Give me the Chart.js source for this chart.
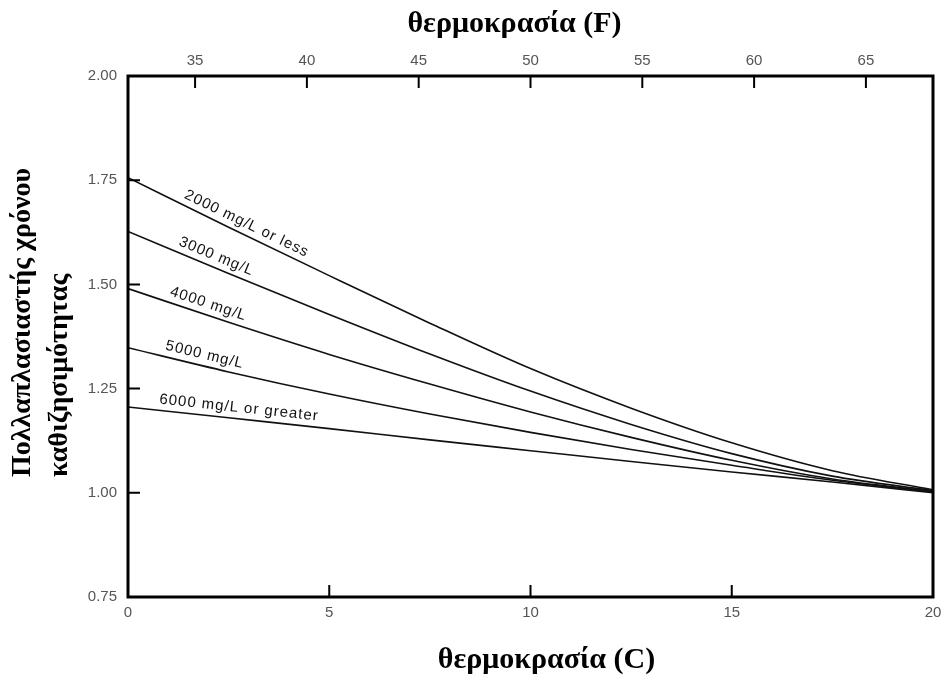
<!DOCTYPE html>
<html><head><meta charset="utf-8">
<script src="https://cdn.jsdelivr.net/npm/chart.js@4"></script>
<style>html,body{margin:0;padding:0;background:#fff}#wrap{width:943px;height:675px;position:relative}</style>
</head><body><div id="wrap"><canvas id="c" width="943" height="675"></canvas></div>
<script>
// Data
const tempC = [0, 2.5, 5, 7.5, 10, 12.5, 15, 17.5, 20];
const mult2000 = [1.756, 1.637, 1.521, 1.407, 1.298, 1.203, 1.120, 1.053, 1.007];
const mult3000 = [1.627, 1.526, 1.428, 1.333, 1.244, 1.164, 1.094, 1.040, 1.005];
const mult4000 = [1.490, 1.409, 1.332, 1.261, 1.194, 1.133, 1.078, 1.033, 1.003];
const mult5000 = [1.348, 1.290, 1.237, 1.189, 1.145, 1.104, 1.066, 1.030, 1.002];
const mult6000 = [1.206, 1.180, 1.154, 1.127, 1.101, 1.075, 1.050, 1.026, 1.000];
const seriesNames = ['2000 mg/L or less', '3000 mg/L', '4000 mg/L', '5000 mg/L', '6000 mg/L or greater'];
const labelAtC = [2.83, 2.09, 1.91, 1.84, 2.73];
const yTickValues = [0.75, 1.00, 1.25, 1.50, 1.75, 2.00];
const cTickValues = [0, 5, 10, 15, 20];
const fTickValues = [35, 40, 45, 50, 55, 60, 65];
const titleTop = 'θερμοκρασία (F)';
const titleBottom = 'θερμοκρασία (C)';
const titleY = ['Πολλαπλασιαστής χρόνου', 'καθιζησιμότητας'];

const allSeries = [mult2000, mult3000, mult4000, mult5000, mult6000];

function interp(arr, c) {
  for (let i = 0; i < tempC.length - 1; i++) {
    if (c >= tempC[i] && c <= tempC[i + 1]) {
      const t = (c - tempC[i]) / (tempC[i + 1] - tempC[i]);
      return arr[i] + t * (arr[i + 1] - arr[i]);
    }
  }
  return arr[arr.length - 1];
}

const tickFont = { family: 'Liberation Sans', size: 15 };
const tickColor = '#555';

const decor = {
  id: 'decor',
  afterDraw(chart) {
    const { ctx, chartArea: a, scales } = chart;
    const xs = scales.x, ys = scales.y, xf = scales.xF;
    ctx.save();
    // frame
    ctx.strokeStyle = '#000';
    ctx.lineWidth = 3;
    ctx.strokeRect(a.left, a.top, a.right - a.left, a.bottom - a.top);
    // inner ticks
    ctx.lineWidth = 2;
    ctx.beginPath();
    yTickValues.forEach(v => {
      if (v <= ys.min || v >= ys.max) return;
      const p = ys.getPixelForValue(v);
      ctx.moveTo(a.left, p); ctx.lineTo(a.left + 12, p);
    });
    cTickValues.forEach(v => {
      if (v <= xs.min || v >= xs.max) return;
      const p = xs.getPixelForValue(v);
      ctx.moveTo(p, a.bottom); ctx.lineTo(p, a.bottom - 12);
    });
    fTickValues.forEach(v => {
      const p = xf.getPixelForValue(v);
      ctx.moveTo(p, a.top); ctx.lineTo(p, a.top + 12);
    });
    ctx.stroke();

    // series labels along the curves
    ctx.fillStyle = '#111';
    ctx.font = '15px "Liberation Sans"';
    ctx.letterSpacing = '1px';
    ctx.textAlign = 'center';
    ctx.textBaseline = 'middle';
    allSeries.forEach((arr, i) => {
      const c = labelAtC[i];
      const px = xs.getPixelForValue(c), py = ys.getPixelForValue(interp(arr, c));
      const x1 = xs.getPixelForValue(c - 0.6), y1 = ys.getPixelForValue(interp(arr, Math.max(0, c - 0.6)));
      const x2 = xs.getPixelForValue(c + 0.6), y2 = ys.getPixelForValue(interp(arr, c + 0.6));
      const ang = Math.atan2(y2 - y1, x2 - x1);
      ctx.save();
      ctx.translate(px, py);
      ctx.rotate(ang);
      ctx.fillText(seriesNames[i], 0, -11);
      ctx.restore();
    });
    ctx.letterSpacing = '0px';

    // axis titles
    ctx.fillStyle = '#000';
    ctx.font = 'bold 30px "Liberation Serif"';
    const cx = (a.left + a.right) / 2;
    ctx.textAlign = 'center';
    ctx.textBaseline = 'middle';
    ctx.fillText(titleTop, cx - 16, 24);
    ctx.fillText(titleBottom, cx + 16, 660);
    ctx.font = 'bold 28px "Liberation Serif"';
    ctx.save();
    ctx.translate(23, 477);
    ctx.rotate(-Math.PI / 2);
    ctx.textAlign = 'left';
    ctx.fillText(titleY[0], 0, 0);
    ctx.restore();
    ctx.save();
    ctx.translate(60, 477);
    ctx.rotate(-Math.PI / 2);
    ctx.textAlign = 'left';
    ctx.fillText(titleY[1], 0, 0);
    ctx.restore();
    ctx.restore();
  }
};

const noPad = s => { s.paddingLeft = 0; s.paddingRight = 0; };

new Chart(document.getElementById('c'), {
  type: 'line',
  data: {
    datasets: allSeries.map((arr, i) => ({
      label: seriesNames[i],
      data: tempC.map((c, j) => ({ x: c, y: arr[j] })),
      borderColor: '#111',
      borderWidth: 1.6,
      pointRadius: 0,
      fill: false,
      cubicInterpolationMode: 'monotone',
      xAxisID: 'x',
      yAxisID: 'y'
    }))
  },
  options: {
    responsive: false,
    animation: false,
    devicePixelRatio: 1,
    layout: { padding: { left: 0, right: 10, top: 0, bottom: 0 } },
    plugins: { legend: { display: false }, tooltip: { enabled: false } },
    scales: {
      x: {
        type: 'linear', position: 'bottom', min: 0, max: 20,
        afterBuildTicks: s => { s.ticks = cTickValues.map(v => ({ value: v })); },
        afterFit: s => { s.height = 78; noPad(s); },
        grid: { display: false, drawTicks: false },
        border: { display: false },
        ticks: { font: tickFont, color: tickColor, padding: 7, maxRotation: 0, autoSkip: false, callback: v => String(v) }
      },
      xF: {
        type: 'linear', position: 'top', min: 32, max: 68,
        afterBuildTicks: s => { s.ticks = fTickValues.map(v => ({ value: v })); },
        afterFit: s => { s.height = 76; noPad(s); },
        grid: { display: false, drawTicks: false },
        border: { display: false },
        ticks: { font: tickFont, color: tickColor, padding: 6, maxRotation: 0, autoSkip: false, callback: v => String(v) }
      },
      y: {
        type: 'linear', position: 'left', min: 0.75, max: 2.0,
        afterBuildTicks: s => { s.ticks = yTickValues.map(v => ({ value: v })); },
        afterFit: s => { s.width = 128; },
        grid: { display: false, drawTicks: false },
        border: { display: false },
        ticks: { font: tickFont, color: tickColor, padding: 11, autoSkip: false, callback: v => Number(v).toFixed(2) }
      }
    }
  },
  plugins: [decor]
});
</script>
</body></html>
